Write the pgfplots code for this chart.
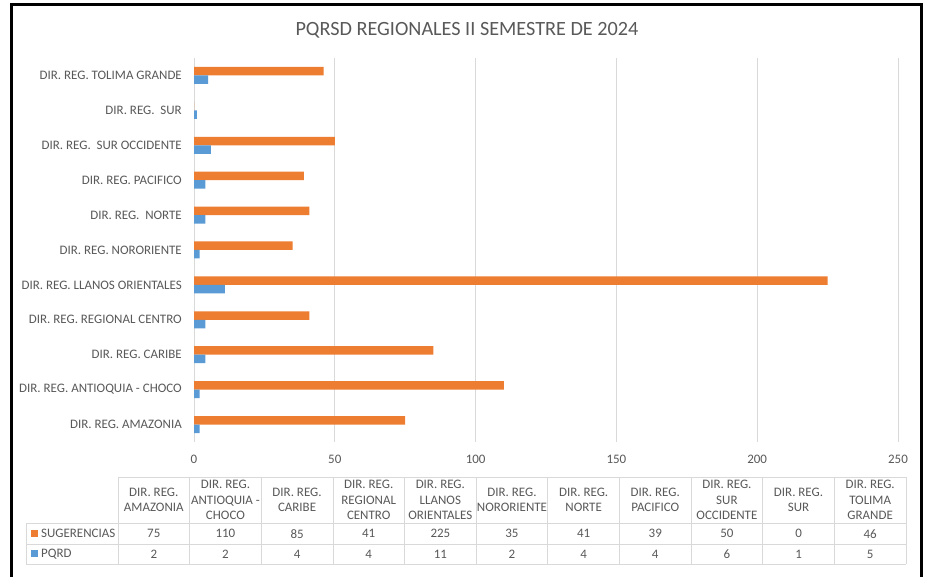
\documentclass[border=0pt]{standalone}
\usepackage{fontspec}
\setmainfont{Carlito}
\usepackage{pgfplots}
\pgfplotsset{compat=1.18}
\definecolor{sugc}{HTML}{ED7D31}
\definecolor{pqrc}{HTML}{5B9BD5}
\definecolor{gridc}{HTML}{D9D9D9}
\definecolor{txtc}{HTML}{595959}
\begin{document}
\begin{tikzpicture}
\begin{scope}[x=1bp,y=1bp]
\useasboundingbox (0,0) rectangle (928,577);
\fill[white] (0,0) rectangle (928,577);
\draw[line width=3bp] (11,0) -- (11,572) -- (921.5,572) -- (921.5,0);
\node[font=\fontsize{20.3}{23}\selectfont, text=txtc] at (467,547) {PQRSD REGIONALES II SEMESTRE DE 2024};
\end{scope}
\begin{axis}[at={(194bp,135bp)}, anchor=south west, scale only axis,
  width=704bp, height=384bp,
  xmin=0, xmax=250, ymin=-0.5, ymax=10.5,
  xtick={0,50,...,250}, ytick={0,...,10},
  yticklabels={DIR. REG. AMAZONIA, DIR. REG. ANTIOQUIA - CHOCO, DIR. REG. CARIBE, DIR. REG. REGIONAL CENTRO, DIR. REG. LLANOS ORIENTALES, DIR. REG. NORORIENTE, DIR. REG.\ \ NORTE, DIR. REG. PACIFICO, DIR. REG.\ \ SUR OCCIDENTE, DIR. REG.\ \ SUR, DIR. REG. TOLIMA GRANDE},
  axis line style={draw=none}, major tick length=0pt,
  xmajorgrids, grid style={gridc, line width=0.8bp},
  xbar, bar width=8.5bp,
  /pgf/number format/assume math mode=true,
  tick label style={font=\fontsize{13}{15}\selectfont, text=txtc},
  xticklabel style={anchor=center, yshift=-17bp},
  yticklabel style={anchor=east, inner sep=0pt, xshift=-12bp},
]
\addplot[fill=sugc, draw=none, bar shift=4.25bp] coordinates {(75,0) (110,1) (85,2) (41,3) (225,4) (35,5) (41,6) (39,7) (50,8) (0,9) (46,10)};
\addplot[fill=pqrc, draw=none, bar shift=-4.25bp] coordinates {(2,0) (2,1) (4,2) (4,3) (11,4) (2,5) (4,6) (4,7) (6,8) (1,9) (5,10)};
\end{axis}
\begin{scope}[x=1bp,y=1bp]
\begin{scope}[gridc, line width=0.8bp]
\draw (118,100) -- (906,100);
\draw (26,53.5) -- (906,53.5);
\draw (26,33) -- (906,33);
\draw (26,13) -- (906,13);
\draw (26,53.5) -- (26,13);
\foreach \k in {0,...,11} {\draw ({118+71.636*\k},100) -- ({118+71.636*\k},13);}
\end{scope}
\begin{scope}[font=\fontsize{13}{15.5}\selectfont, text=txtc]
\foreach \t [count=\i from 0] in {{DIR. REG.\\AMAZONIA}, {DIR. REG.\\ANTIOQUIA -\\CHOCO}, {DIR. REG.\\CARIBE}, {DIR. REG.\\REGIONAL\\CENTRO}, {DIR. REG.\\LLANOS\\ORIENTALES}, {DIR. REG.\\NORORIENTE}, {DIR. REG.\\NORTE}, {DIR. REG.\\PACIFICO}, {DIR. REG.\\SUR\\OCCIDENTE}, {DIR. REG.\\SUR}, {DIR. REG.\\TOLIMA\\GRANDE}}
  {\node[align=center, inner sep=0pt] at ({153.8+71.636*\i},77) {\t};}
\foreach \v [count=\i from 0] in {75,110,85,41,225,35,41,39,50,0,46}
  {\node[inner sep=0pt] at ({153.8+71.636*\i},43.25) {\v};}
\foreach \v [count=\i from 0] in {2,2,4,4,11,2,4,4,6,1,5}
  {\node[inner sep=0pt] at ({153.8+71.636*\i},23) {\v};}
\fill[sugc] (31,39.5) rectangle (38,46.5);
\node[anchor=west, inner sep=0pt] at (41,43.25) {SUGERENCIAS};
\fill[pqrc] (31,19.5) rectangle (38,26.5);
\node[anchor=west, inner sep=0pt] at (41,23) {PQRD};
\end{scope}
\end{scope}
\end{tikzpicture}
\end{document}
